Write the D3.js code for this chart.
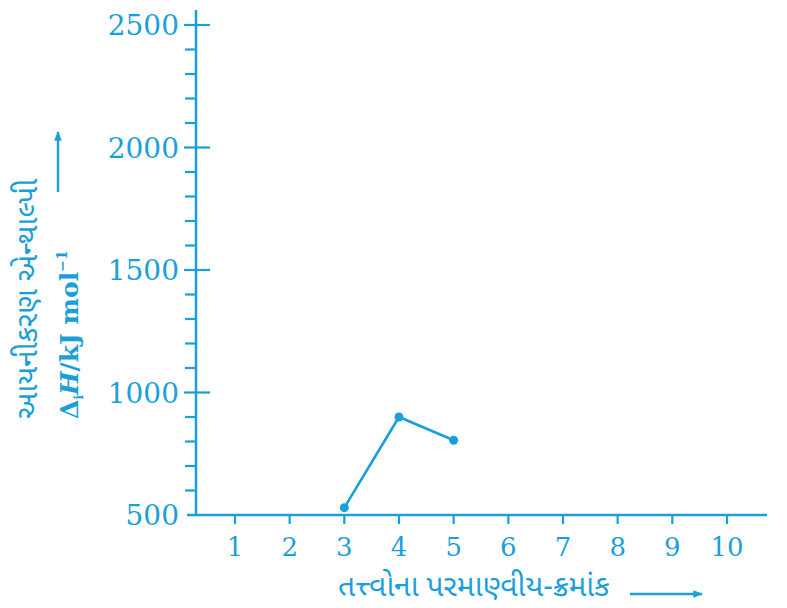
<!DOCTYPE html>
<html><head><meta charset="utf-8">
<script src="https://cdn.jsdelivr.net/npm/d3@7"></script>
<style>body{margin:0;background:#fff}</style>
</head><body>
<svg id="c" width="787" height="608"></svg>
<script>
const atomicNumbers = [3, 4, 5];
const ionizationEnthalpy = [530, 900, 805];
const xTicks = [1,2,3,4,5,6,7,8,9,10];
const yMajorTicks = [500, 1000, 1500, 2000, 2500];
const yMinorTicks = d3.range(500, 2501, 100);
const xTitle = "તત્ત્વોના પરમાણ્વીય-ક્રમાંક";
const yTitle1 = "આયનીકરણ એન્થાલ્પી";

const col = "#1b9fdb";
const svg = d3.select("#c");
const x = d3.scaleLinear().domain([1, 10]).range([235, 727]);
const y = d3.scaleLinear().domain([500, 2500]).range([515, 25]);
const axX = 196;

// axis lines
svg.append("line").attr("x1", axX).attr("x2", axX).attr("y1", y(500)).attr("y2", 10)
  .attr("stroke", col).attr("stroke-width", 2.5);
svg.append("line").attr("x1", 187).attr("x2", 767).attr("y1", y(500)).attr("y2", y(500))
  .attr("stroke", col).attr("stroke-width", 2.5);

// y ticks
const gy = svg.append("g");
gy.selectAll("line.minor").data(yMinorTicks.filter(d => d % 500 !== 0)).join("line")
  .attr("x1", axX - 11).attr("x2", axX).attr("y1", d => y(d)).attr("y2", d => y(d))
  .attr("stroke", col).attr("stroke-width", 2.2);
gy.selectAll("line.major").data(yMajorTicks.filter(d => d !== 500)).join("line")
  .attr("x1", axX - 12).attr("x2", axX + 14).attr("y1", d => y(d)).attr("y2", d => y(d))
  .attr("stroke", col).attr("stroke-width", 2.2);
gy.selectAll("text").data(yMajorTicks).join("text")
  .attr("x", 179).attr("y", d => y(d)).attr("dy", "0.36em")
  .attr("text-anchor", "end").attr("fill", col)
  .attr("font-family", "DejaVu Serif").attr("font-size", 28)
  .text(d => d);

// x ticks
const gx = svg.append("g");
gx.selectAll("line").data(xTicks).join("line")
  .attr("x1", d => x(d)).attr("x2", d => x(d)).attr("y1", y(500)).attr("y2", y(500) + 9)
  .attr("stroke", col).attr("stroke-width", 2.2);
gx.selectAll("text").data(xTicks).join("text")
  .attr("x", d => x(d)).attr("y", 556)
  .attr("text-anchor", "middle").attr("fill", col)
  .attr("font-family", "DejaVu Serif").attr("font-size", 26)
  .text(d => d);

// line + points
const pts = atomicNumbers.map((d, i) => [d, ionizationEnthalpy[i]]);
svg.append("path").datum(pts)
  .attr("d", d3.line().x(d => x(d[0])).y(d => y(d[1])))
  .attr("fill", "none").attr("stroke", col).attr("stroke-width", 2.6);
svg.selectAll("circle").data(pts).join("circle")
  .attr("cx", d => x(d[0])).attr("cy", d => y(d[1])).attr("r", 4.5).attr("fill", col);

// x title
svg.append("text").attr("x", 338).attr("y", 596).attr("fill", col)
  .attr("font-family", "Noto Sans Gujarati, Noto Sans, sans-serif").attr("font-size", 30)
  .text(xTitle);
const arrowDefs = svg.append("defs");
arrowDefs.append("marker").attr("id", "ah").attr("viewBox", "0 0 10 10")
  .attr("refX", 9).attr("refY", 5).attr("markerWidth", 4).attr("markerHeight", 4)
  .attr("orient", "auto").append("path").attr("d", "M0,1 L10,5 L0,9 Z").attr("fill", col);
svg.append("line").attr("x1", 630).attr("x2", 702).attr("y1", 594).attr("y2", 594)
  .attr("stroke", col).attr("stroke-width", 2.4).attr("marker-end", "url(#ah)");

// y titles
svg.append("text").attr("transform", "translate(37,419) rotate(-90)").attr("fill", col)
  .attr("font-family", "Noto Sans Gujarati, Noto Sans, sans-serif").attr("font-size", 30)
  .text(yTitle1);
const t2 = svg.append("text").attr("transform", "translate(78,419) rotate(-90)").attr("fill", col)
  .attr("font-family", "DejaVu Serif").attr("font-size", 25).attr("font-weight", "600");
t2.append("tspan").text("Δ");
t2.append("tspan").attr("font-size", 12).attr("dy", 5).text("i");
t2.append("tspan").attr("dy", -5).attr("font-style", "italic").text("H");
t2.append("tspan").text("/kJ mol");
t2.append("tspan").attr("font-size", 14).attr("dy", -11).text("−1");
svg.append("line").attr("x1", 58).attr("x2", 58).attr("y1", 192).attr("y2", 132)
  .attr("stroke", col).attr("stroke-width", 2.4).attr("marker-end", "url(#ah)");
</script>
</body></html>
